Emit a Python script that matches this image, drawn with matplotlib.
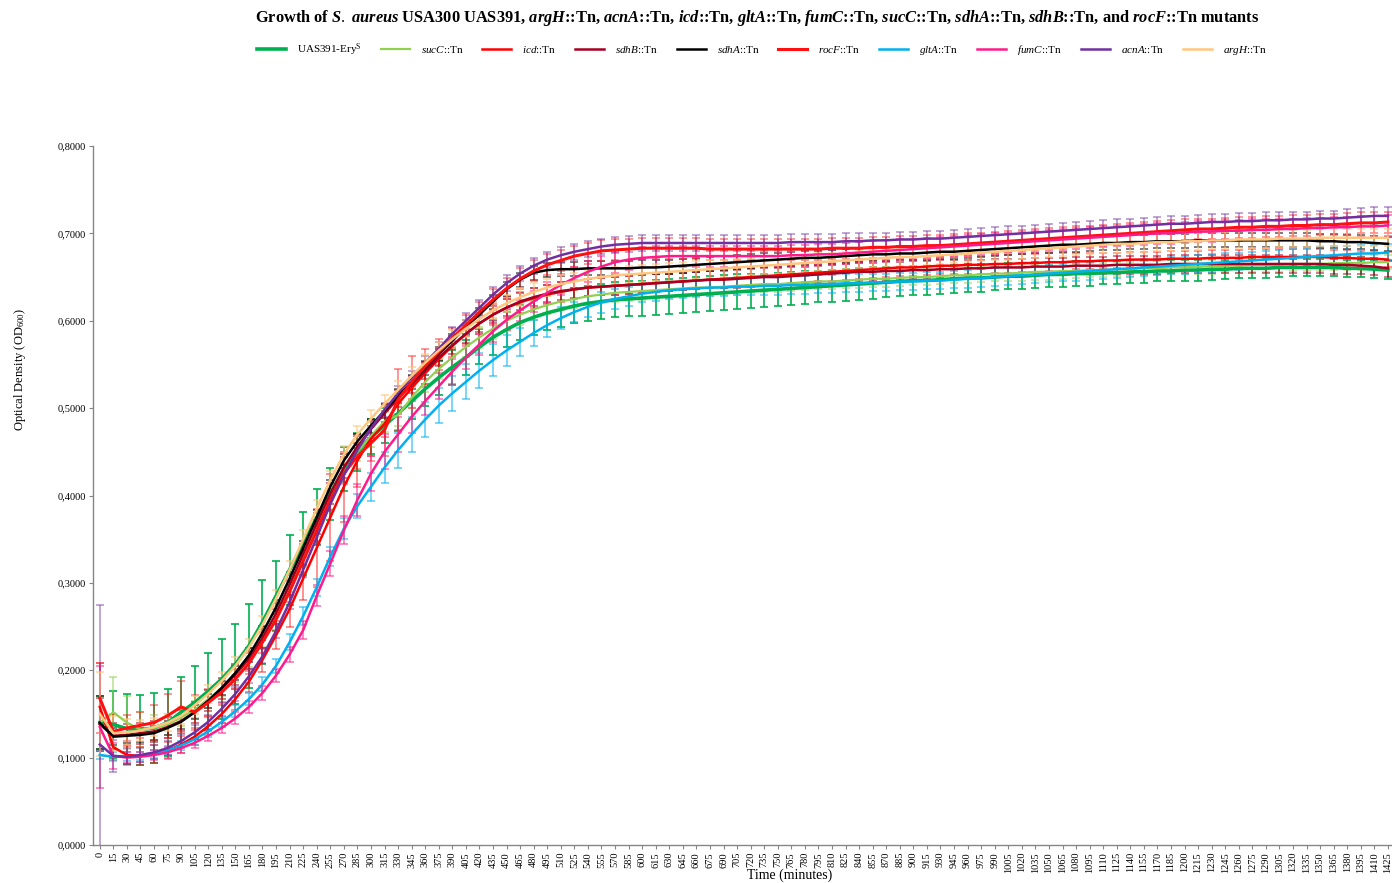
import matplotlib
matplotlib.use("Agg")
import matplotlib.pyplot as plt
from matplotlib.colors import to_rgba

plt.rcParams['font.family'] = ['Liberation Serif', 'DejaVu Serif']
plt.rcParams['mathtext.fontset'] = 'custom'
plt.rcParams['mathtext.rm'] = 'Liberation Serif'
plt.rcParams['mathtext.it'] = 'Liberation Serif:italic:bold'
plt.rcParams['mathtext.bf'] = 'Liberation Serif:bold'
plt.rcParams['mathtext.sf'] = 'Liberation Serif:italic'

# time points (minutes)
times = list(range(0, 1426, 15))

uas391 = [0.140, 0.138, 0.133, 0.132, 0.134, 0.140, 0.152, 0.163, 0.176, 0.190, 0.207, 0.228,
          0.255, 0.285, 0.315, 0.345, 0.375, 0.402, 0.430, 0.450, 0.467, 0.480, 0.494, 0.508,
          0.522, 0.535, 0.547, 0.558, 0.570, 0.581, 0.590, 0.598, 0.604, 0.609, 0.613, 0.617,
          0.620, 0.622, 0.624, 0.625, 0.626, 0.627, 0.628, 0.629, 0.630, 0.631, 0.632, 0.633,
          0.634, 0.635, 0.636, 0.637, 0.638, 0.639, 0.640, 0.641, 0.642, 0.643, 0.644, 0.645,
          0.646, 0.646, 0.647, 0.648, 0.649, 0.649, 0.650, 0.651, 0.651, 0.652, 0.653, 0.653,
          0.654, 0.654, 0.655, 0.655, 0.656, 0.656, 0.657, 0.657, 0.658, 0.658, 0.659, 0.659,
          0.660, 0.660, 0.660, 0.661, 0.661, 0.661, 0.661, 0.661, 0.660, 0.660, 0.659, 0.658]
uas391_err = [0.030, 0.038, 0.040, 0.040, 0.040, 0.038, 0.040, 0.042, 0.044, 0.046, 0.046, 0.048,
              0.048, 0.040, 0.040, 0.036, 0.032, 0.030, 0.025, 0.022, 0.020, 0.020, 0.020, 0.020,
              0.020, 0.020, 0.020, 0.020, 0.020, 0.020, 0.020, 0.020, 0.020, 0.020, 0.020, 0.020,
              0.020, 0.020, 0.020, 0.020, 0.020, 0.020, 0.020, 0.020, 0.020, 0.020, 0.020, 0.020,
              0.019, 0.019, 0.019, 0.019, 0.019, 0.018, 0.018, 0.018, 0.018, 0.018, 0.017, 0.017,
              0.017, 0.017, 0.016, 0.016, 0.016, 0.016, 0.015, 0.015, 0.015, 0.015, 0.014, 0.014,
              0.014, 0.014, 0.013, 0.013, 0.013, 0.013, 0.012, 0.012, 0.012, 0.012, 0.012, 0.011,
              0.011, 0.011, 0.011, 0.011, 0.010, 0.010, 0.010, 0.010, 0.010, 0.010, 0.010, 0.010]

sucC = [0.140, 0.152, 0.140, 0.132, 0.134, 0.138, 0.146, 0.155, 0.167, 0.180, 0.196, 0.214,
        0.237, 0.263, 0.294, 0.328, 0.362, 0.395, 0.425, 0.450, 0.468, 0.485, 0.492, 0.512,
        0.530, 0.545, 0.558, 0.570, 0.581, 0.591, 0.600, 0.607, 0.613, 0.618, 0.622, 0.625,
        0.628, 0.630, 0.632, 0.633, 0.634, 0.635, 0.636, 0.637, 0.638, 0.638, 0.639, 0.640,
        0.641, 0.642, 0.642, 0.643, 0.644, 0.645, 0.645, 0.646, 0.647, 0.648, 0.648, 0.649,
        0.650, 0.650, 0.651, 0.652, 0.652, 0.653, 0.654, 0.654, 0.655, 0.656, 0.656, 0.657,
        0.657, 0.658, 0.658, 0.659, 0.659, 0.660, 0.660, 0.661, 0.661, 0.662, 0.662, 0.663,
        0.663, 0.664, 0.664, 0.664, 0.665, 0.665, 0.665, 0.666, 0.666, 0.666, 0.667, 0.667]
sucC_err = [0.030, 0.040, 0.030, 0.020, 0.015, 0.012, 0.010, 0.010, 0.010, 0.010, 0.010, 0.010,
            0.010, 0.010, 0.010, 0.010, 0.010, 0.010, 0.010, 0.010, 0.012, 0.012, 0.012, 0.012,
            0.012, 0.012, 0.012, 0.012, 0.012, 0.012, 0.012, 0.012, 0.012, 0.010, 0.010, 0.010,
            0.010, 0.010, 0.010, 0.010, 0.010, 0.010, 0.010, 0.010, 0.010, 0.010, 0.010, 0.010,
            0.009, 0.009, 0.009, 0.009, 0.009, 0.009, 0.009, 0.009, 0.009, 0.009, 0.009, 0.009,
            0.009, 0.009, 0.009, 0.009, 0.009, 0.009, 0.009, 0.009, 0.009, 0.009, 0.009, 0.009,
            0.008, 0.008, 0.008, 0.008, 0.008, 0.008, 0.008, 0.008, 0.008, 0.008, 0.008, 0.008,
            0.008, 0.008, 0.008, 0.008, 0.008, 0.008, 0.008, 0.008, 0.008, 0.008, 0.008, 0.008]

icd = [0.158, 0.112, 0.103, 0.102, 0.104, 0.108, 0.115, 0.124, 0.136, 0.150, 0.167, 0.187,
       0.212, 0.240, 0.270, 0.305, 0.340, 0.375, 0.410, 0.440, 0.465, 0.482, 0.505, 0.523,
       0.540, 0.556, 0.571, 0.585, 0.597, 0.607, 0.615, 0.621, 0.626, 0.630, 0.633, 0.636,
       0.638, 0.639, 0.640, 0.641, 0.642, 0.643, 0.644, 0.645, 0.646, 0.647, 0.648, 0.649,
       0.650, 0.651, 0.652, 0.653, 0.654, 0.655, 0.656, 0.657, 0.658, 0.659, 0.660, 0.661,
       0.661, 0.662, 0.663, 0.663, 0.664, 0.664, 0.665, 0.665, 0.666, 0.666, 0.667, 0.667,
       0.668, 0.668, 0.669, 0.669, 0.670, 0.670, 0.670, 0.671, 0.671, 0.671, 0.672, 0.672,
       0.672, 0.673, 0.673, 0.673, 0.673, 0.673, 0.673, 0.672, 0.672, 0.671, 0.671, 0.670]
icd_err = [0.050, 0.015, 0.010, 0.010, 0.010, 0.010, 0.010, 0.010, 0.010, 0.010, 0.012, 0.012,
           0.014, 0.016, 0.020, 0.025, 0.045, 0.050, 0.040, 0.030, 0.020, 0.015, 0.012, 0.012,
           0.012, 0.012, 0.012, 0.012, 0.012, 0.012, 0.012, 0.012, 0.011, 0.011, 0.011, 0.011,
           0.010, 0.010, 0.010, 0.010, 0.010, 0.010, 0.010, 0.010, 0.010, 0.010, 0.010, 0.010,
           0.010, 0.010, 0.010, 0.010, 0.010, 0.010, 0.010, 0.010, 0.010, 0.010, 0.010, 0.010,
           0.010, 0.010, 0.010, 0.010, 0.010, 0.010, 0.010, 0.010, 0.010, 0.010, 0.010, 0.010,
           0.009, 0.009, 0.009, 0.009, 0.009, 0.009, 0.009, 0.009, 0.009, 0.009, 0.009, 0.009,
           0.009, 0.009, 0.009, 0.009, 0.009, 0.009, 0.009, 0.009, 0.009, 0.009, 0.009, 0.009]

sdhB = [0.138, 0.125, 0.126, 0.128, 0.130, 0.135, 0.142, 0.152, 0.165, 0.179, 0.195, 0.213,
        0.237, 0.265, 0.298, 0.333, 0.368, 0.402, 0.432, 0.456, 0.476, 0.494, 0.511, 0.527,
        0.543, 0.558, 0.572, 0.585, 0.597, 0.607, 0.615, 0.622, 0.627, 0.631, 0.634, 0.636,
        0.638, 0.639, 0.640, 0.641, 0.642, 0.643, 0.644, 0.645, 0.646, 0.647, 0.647, 0.648,
        0.649, 0.650, 0.650, 0.651, 0.652, 0.653, 0.654, 0.655, 0.656, 0.656, 0.657, 0.657,
        0.658, 0.658, 0.659, 0.659, 0.660, 0.660, 0.661, 0.661, 0.661, 0.662, 0.662, 0.662,
        0.663, 0.663, 0.663, 0.664, 0.664, 0.664, 0.664, 0.665, 0.665, 0.665, 0.665, 0.665,
        0.665, 0.665, 0.665, 0.665, 0.665, 0.665, 0.665, 0.664, 0.664, 0.663, 0.662, 0.660]
sdhB_err = [0.030, 0.015, 0.012, 0.012, 0.012, 0.012, 0.012, 0.012, 0.012, 0.012, 0.012, 0.012,
            0.012, 0.012, 0.012, 0.012, 0.012, 0.012, 0.012, 0.012, 0.010, 0.010, 0.010, 0.010,
            0.010, 0.010, 0.010, 0.010, 0.010, 0.010, 0.010, 0.010, 0.010, 0.010, 0.010, 0.010,
            0.010, 0.010, 0.010, 0.010, 0.010, 0.010, 0.010, 0.010, 0.010, 0.010, 0.010, 0.010,
            0.010, 0.010, 0.010, 0.010, 0.010, 0.010, 0.010, 0.010, 0.010, 0.010, 0.010, 0.010,
            0.010, 0.010, 0.010, 0.010, 0.010, 0.010, 0.010, 0.010, 0.010, 0.010, 0.010, 0.010,
            0.010, 0.010, 0.010, 0.010, 0.010, 0.010, 0.010, 0.010, 0.010, 0.010, 0.010, 0.010,
            0.010, 0.010, 0.010, 0.010, 0.010, 0.010, 0.010, 0.010, 0.010, 0.010, 0.010, 0.010]

sdhA = [0.140, 0.124, 0.125, 0.126, 0.128, 0.134, 0.141, 0.152, 0.165, 0.180, 0.197, 0.217,
        0.243, 0.272, 0.305, 0.340, 0.375, 0.410, 0.440, 0.462, 0.480, 0.497, 0.514, 0.530,
        0.546, 0.562, 0.577, 0.593, 0.607, 0.622, 0.636, 0.647, 0.655, 0.658, 0.659, 0.659,
        0.660, 0.660, 0.660, 0.660, 0.661, 0.661, 0.662, 0.663, 0.664, 0.665, 0.666, 0.667,
        0.668, 0.669, 0.670, 0.671, 0.672, 0.672, 0.673, 0.674, 0.675, 0.676, 0.676, 0.677,
        0.677, 0.678, 0.679, 0.679, 0.680, 0.681, 0.682, 0.683, 0.684, 0.685, 0.686, 0.687,
        0.687, 0.688, 0.689, 0.689, 0.690, 0.690, 0.691, 0.691, 0.691, 0.692, 0.692, 0.692,
        0.692, 0.692, 0.692, 0.692, 0.692, 0.692, 0.691, 0.691, 0.690, 0.690, 0.689, 0.688]
sdhA_err = [0.030, 0.010, 0.008, 0.008, 0.008, 0.008, 0.008, 0.008, 0.008, 0.008, 0.008, 0.008,
            0.008, 0.008, 0.008, 0.008, 0.008, 0.008, 0.008, 0.008, 0.008, 0.008, 0.008, 0.008,
            0.008, 0.008, 0.008, 0.008, 0.008, 0.008, 0.008, 0.008, 0.008, 0.008, 0.008, 0.008,
            0.008, 0.008, 0.008, 0.008, 0.008, 0.008, 0.008, 0.008, 0.008, 0.008, 0.008, 0.008,
            0.008, 0.008, 0.008, 0.008, 0.008, 0.008, 0.008, 0.008, 0.008, 0.008, 0.008, 0.008,
            0.008, 0.008, 0.008, 0.008, 0.008, 0.008, 0.008, 0.008, 0.008, 0.008, 0.008, 0.008,
            0.008, 0.008, 0.008, 0.008, 0.008, 0.008, 0.008, 0.008, 0.008, 0.008, 0.008, 0.008,
            0.008, 0.008, 0.008, 0.008, 0.008, 0.008, 0.008, 0.008, 0.008, 0.008, 0.008, 0.008]

rocF = [0.168, 0.130, 0.134, 0.137, 0.140, 0.148, 0.158, 0.152, 0.163, 0.175, 0.190, 0.208,
        0.232, 0.258, 0.290, 0.325, 0.360, 0.395, 0.425, 0.445, 0.460, 0.475, 0.510, 0.530,
        0.548, 0.564, 0.580, 0.595, 0.610, 0.624, 0.637, 0.648, 0.657, 0.664, 0.669, 0.674,
        0.677, 0.680, 0.681, 0.682, 0.683, 0.683, 0.683, 0.683, 0.683, 0.682, 0.682, 0.682,
        0.682, 0.682, 0.682, 0.682, 0.682, 0.682, 0.683, 0.683, 0.683, 0.684, 0.684, 0.685,
        0.685, 0.686, 0.686, 0.687, 0.688, 0.689, 0.690, 0.691, 0.692, 0.693, 0.694, 0.695,
        0.696, 0.697, 0.698, 0.699, 0.700, 0.701, 0.702, 0.703, 0.704, 0.705, 0.705, 0.706,
        0.707, 0.707, 0.708, 0.708, 0.709, 0.709, 0.710, 0.710, 0.711, 0.712, 0.712, 0.713]
rocF_err = [0.040, 0.020, 0.015, 0.015, 0.020, 0.025, 0.030, 0.020, 0.015, 0.012, 0.012, 0.012,
            0.012, 0.012, 0.012, 0.012, 0.012, 0.012, 0.012, 0.015, 0.020, 0.030, 0.035, 0.030,
            0.020, 0.015, 0.012, 0.012, 0.012, 0.012, 0.012, 0.012, 0.012, 0.012, 0.012, 0.012,
            0.012, 0.012, 0.012, 0.012, 0.012, 0.012, 0.012, 0.012, 0.012, 0.012, 0.012, 0.012,
            0.012, 0.012, 0.012, 0.012, 0.012, 0.012, 0.012, 0.012, 0.012, 0.012, 0.012, 0.012,
            0.012, 0.012, 0.012, 0.012, 0.012, 0.012, 0.012, 0.012, 0.012, 0.012, 0.012, 0.012,
            0.012, 0.012, 0.012, 0.012, 0.012, 0.012, 0.012, 0.012, 0.012, 0.012, 0.012, 0.012,
            0.012, 0.012, 0.012, 0.012, 0.012, 0.012, 0.012, 0.012, 0.012, 0.012, 0.012, 0.012]

gltA = [0.103, 0.101, 0.101, 0.102, 0.104, 0.108, 0.114, 0.121, 0.130, 0.141, 0.153, 0.167,
        0.184, 0.205, 0.232, 0.262, 0.295, 0.330, 0.362, 0.388, 0.410, 0.432, 0.452, 0.470,
        0.487, 0.503, 0.517, 0.530, 0.543, 0.555, 0.566, 0.576, 0.586, 0.595, 0.603, 0.610,
        0.616, 0.621, 0.625, 0.628, 0.631, 0.633, 0.635, 0.636, 0.637, 0.638, 0.638, 0.639,
        0.639, 0.640, 0.640, 0.641, 0.641, 0.642, 0.642, 0.643, 0.643, 0.644, 0.644, 0.645,
        0.645, 0.646, 0.646, 0.647, 0.648, 0.649, 0.650, 0.651, 0.652, 0.653, 0.654, 0.655,
        0.656, 0.657, 0.658, 0.659, 0.660, 0.661, 0.662, 0.663, 0.664, 0.665, 0.666, 0.667,
        0.668, 0.669, 0.670, 0.671, 0.672, 0.673, 0.674, 0.675, 0.676, 0.677, 0.677, 0.678]
gltA_err = [0.005, 0.005, 0.005, 0.005, 0.005, 0.005, 0.005, 0.006, 0.006, 0.006, 0.007, 0.007,
            0.008, 0.008, 0.009, 0.010, 0.010, 0.011, 0.012, 0.014, 0.016, 0.018, 0.020, 0.020,
            0.020, 0.020, 0.020, 0.020, 0.020, 0.018, 0.018, 0.016, 0.015, 0.014, 0.013, 0.012,
            0.012, 0.012, 0.011, 0.011, 0.010, 0.010, 0.010, 0.010, 0.010, 0.010, 0.010, 0.010,
            0.010, 0.010, 0.010, 0.010, 0.010, 0.010, 0.010, 0.010, 0.010, 0.010, 0.010, 0.010,
            0.010, 0.010, 0.010, 0.010, 0.010, 0.010, 0.010, 0.010, 0.010, 0.010, 0.010, 0.010,
            0.010, 0.010, 0.010, 0.010, 0.010, 0.010, 0.010, 0.010, 0.010, 0.010, 0.010, 0.010,
            0.010, 0.010, 0.010, 0.010, 0.010, 0.010, 0.010, 0.010, 0.010, 0.010, 0.010, 0.010]

fumC = [0.135, 0.102, 0.100, 0.101, 0.103, 0.106, 0.111, 0.117, 0.125, 0.134, 0.145, 0.158,
        0.174, 0.194, 0.218, 0.246, 0.285, 0.322, 0.360, 0.395, 0.425, 0.450, 0.470, 0.490,
        0.508, 0.525, 0.542, 0.558, 0.573, 0.588, 0.601, 0.612, 0.622, 0.632, 0.641, 0.649,
        0.656, 0.662, 0.667, 0.670, 0.672, 0.673, 0.674, 0.674, 0.674, 0.674, 0.674, 0.674,
        0.674, 0.674, 0.674, 0.675, 0.675, 0.676, 0.676, 0.677, 0.678, 0.679, 0.680, 0.681,
        0.682, 0.683, 0.684, 0.685, 0.686, 0.687, 0.688, 0.689, 0.690, 0.691, 0.692, 0.693,
        0.694, 0.695, 0.696, 0.697, 0.698, 0.699, 0.700, 0.700, 0.701, 0.702, 0.702, 0.703,
        0.703, 0.704, 0.704, 0.705, 0.705, 0.706, 0.706, 0.707, 0.707, 0.708, 0.708, 0.709]
fumC_err = [0.070, 0.015, 0.006, 0.006, 0.006, 0.006, 0.006, 0.006, 0.006, 0.006, 0.007, 0.007,
            0.008, 0.008, 0.009, 0.010, 0.012, 0.014, 0.016, 0.018, 0.020, 0.020, 0.020, 0.018,
            0.016, 0.015, 0.014, 0.013, 0.012, 0.012, 0.012, 0.012, 0.012, 0.012, 0.012, 0.012,
            0.012, 0.012, 0.012, 0.012, 0.012, 0.012, 0.012, 0.012, 0.012, 0.012, 0.012, 0.012,
            0.012, 0.012, 0.012, 0.012, 0.012, 0.012, 0.012, 0.012, 0.012, 0.012, 0.012, 0.012,
            0.012, 0.012, 0.012, 0.012, 0.012, 0.012, 0.012, 0.012, 0.012, 0.012, 0.012, 0.012,
            0.012, 0.012, 0.012, 0.012, 0.012, 0.012, 0.012, 0.012, 0.012, 0.012, 0.012, 0.012,
            0.012, 0.012, 0.012, 0.012, 0.012, 0.012, 0.012, 0.012, 0.012, 0.012, 0.012, 0.012]

acnA = [0.115, 0.102, 0.101, 0.103, 0.106, 0.111, 0.119, 0.129, 0.141, 0.156, 0.173, 0.193,
        0.216, 0.245, 0.278, 0.315, 0.352, 0.390, 0.423, 0.452, 0.477, 0.498, 0.517, 0.535,
        0.552, 0.568, 0.585, 0.600, 0.615, 0.630, 0.643, 0.654, 0.663, 0.670, 0.675, 0.679,
        0.682, 0.685, 0.687, 0.688, 0.689, 0.689, 0.689, 0.689, 0.689, 0.689, 0.689, 0.689,
        0.689, 0.689, 0.689, 0.690, 0.690, 0.690, 0.690, 0.691, 0.691, 0.692, 0.692, 0.693,
        0.693, 0.694, 0.694, 0.695, 0.696, 0.697, 0.698, 0.699, 0.700, 0.701, 0.702, 0.703,
        0.704, 0.705, 0.706, 0.707, 0.708, 0.709, 0.710, 0.711, 0.711, 0.712, 0.713, 0.713,
        0.714, 0.714, 0.715, 0.715, 0.716, 0.716, 0.717, 0.717, 0.718, 0.719, 0.720, 0.720]
acnA_err = [0.160, 0.018, 0.010, 0.008, 0.008, 0.008, 0.008, 0.008, 0.008, 0.008, 0.008, 0.008,
            0.008, 0.008, 0.008, 0.008, 0.008, 0.008, 0.008, 0.008, 0.008, 0.008, 0.008, 0.008,
            0.008, 0.008, 0.008, 0.009, 0.009, 0.009, 0.009, 0.009, 0.009, 0.009, 0.009, 0.009,
            0.009, 0.009, 0.009, 0.009, 0.009, 0.009, 0.009, 0.009, 0.009, 0.009, 0.009, 0.009,
            0.009, 0.009, 0.009, 0.009, 0.009, 0.009, 0.009, 0.009, 0.009, 0.009, 0.009, 0.009,
            0.009, 0.009, 0.009, 0.009, 0.009, 0.009, 0.009, 0.009, 0.009, 0.009, 0.009, 0.009,
            0.009, 0.009, 0.009, 0.009, 0.009, 0.009, 0.009, 0.009, 0.009, 0.009, 0.009, 0.009,
            0.009, 0.009, 0.009, 0.009, 0.009, 0.009, 0.009, 0.009, 0.010, 0.010, 0.010, 0.010]

argH = [0.150, 0.128, 0.129, 0.131, 0.135, 0.140, 0.148, 0.160, 0.173, 0.188, 0.205, 0.226,
        0.252, 0.282, 0.315, 0.350, 0.385, 0.418, 0.447, 0.470, 0.488, 0.505, 0.521, 0.537,
        0.552, 0.566, 0.579, 0.591, 0.602, 0.612, 0.620, 0.627, 0.633, 0.638, 0.642, 0.645,
        0.648, 0.650, 0.652, 0.653, 0.654, 0.655, 0.656, 0.657, 0.658, 0.659, 0.660, 0.661,
        0.662, 0.663, 0.664, 0.665, 0.666, 0.667, 0.668, 0.669, 0.670, 0.671, 0.672, 0.673,
        0.673, 0.674, 0.675, 0.676, 0.677, 0.678, 0.679, 0.680, 0.681, 0.682, 0.683, 0.684,
        0.685, 0.686, 0.687, 0.688, 0.688, 0.689, 0.690, 0.690, 0.691, 0.691, 0.692, 0.692,
        0.693, 0.693, 0.693, 0.694, 0.694, 0.694, 0.695, 0.695, 0.695, 0.695, 0.695, 0.695]
argH_err = [0.048, 0.020, 0.015, 0.012, 0.010, 0.010, 0.010, 0.010, 0.010, 0.010, 0.010, 0.010,
            0.010, 0.010, 0.010, 0.010, 0.010, 0.010, 0.010, 0.010, 0.010, 0.010, 0.010, 0.010,
            0.010, 0.010, 0.010, 0.010, 0.010, 0.010, 0.010, 0.010, 0.010, 0.010, 0.010, 0.010,
            0.010, 0.010, 0.010, 0.010, 0.010, 0.010, 0.010, 0.010, 0.010, 0.010, 0.010, 0.010,
            0.010, 0.010, 0.010, 0.010, 0.010, 0.010, 0.010, 0.010, 0.010, 0.010, 0.010, 0.010,
            0.010, 0.010, 0.010, 0.010, 0.010, 0.010, 0.010, 0.010, 0.010, 0.010, 0.010, 0.010,
            0.010, 0.010, 0.010, 0.010, 0.010, 0.010, 0.010, 0.010, 0.010, 0.010, 0.010, 0.010,
            0.010, 0.010, 0.010, 0.010, 0.010, 0.010, 0.010, 0.010, 0.010, 0.010, 0.010, 0.010]

labels = [r"UAS391-Ery$^{\mathrm{S}}$", r"$\mathsf{sucC}$::Tn", r"$\mathsf{icd}$::Tn",
          r"$\mathsf{sdhB}$::Tn", r"$\mathsf{sdhA}$::Tn", r"$\mathsf{rocF}$::Tn",
          r"$\mathsf{gltA}$::Tn", r"$\mathsf{fumC}$::Tn", r"$\mathsf{acnA}$::Tn",
          r"$\mathsf{argH}$::Tn"]
series = [uas391, sucC, icd, sdhB, sdhA, rocF, gltA, fumC, acnA, argH]
errors = [uas391_err, sucC_err, icd_err, sdhB_err, sdhA_err, rocF_err, gltA_err, fumC_err, acnA_err, argH_err]
colors = ['#00B050', '#92D050', '#FF0000', '#A50021', '#000000', '#FF1010',
          '#00B0F0', '#FF1A8C', '#7030A0', '#FFC77D']
widths = [2.6, 1.6, 1.8, 1.8, 1.8, 2.2, 1.8, 1.8, 1.8, 1.8]
err_alpha = [1.0, 0.6, 0.5, 0.6, 0.6, 0.5, 0.6, 0.6, 0.5, 0.7]

fig = plt.figure(figsize=(13.92, 8.83), dpi=100)
ax = fig.add_axes([93 / 1392, 38 / 883, 1299 / 1392, 699 / 883])

xpos = list(range(len(times)))
handles = []
for y, e, c, lw, a in zip(series, errors, colors, widths, err_alpha):
    cont = ax.errorbar(xpos, y, yerr=e, color=c, lw=lw, ecolor=to_rgba(c, a),
                       elinewidth=1.2, capsize=3, capthick=1.2)
    handles.append(cont[0])

ax.set_ylim(0, 0.8)
ax.set_xlim(-0.5, 95.3)
yt = [0.0, 0.1, 0.2, 0.3, 0.4, 0.5, 0.6, 0.7, 0.8]
ax.set_yticks(yt)
ax.set_yticklabels([f"{v:.4f}".replace('.', ',') for v in yt], fontsize=7.5)
ax.set_xticks(xpos)
ax.set_xticklabels([str(t) for t in times], rotation=90, fontsize=7.5)
ax.tick_params(axis='both', direction='out', length=3, width=0.8, color='#868686', pad=2)
for s in ['top', 'right']:
    ax.spines[s].set_visible(False)
for s in ['left', 'bottom']:
    ax.spines[s].set_color('#868686')
    ax.spines[s].set_linewidth(1.0)

ax.set_ylabel(r"Optical Density (OD$_{600}$)", fontsize=9)
ax.yaxis.set_label_coords(-0.050, 0.68)
fig.text(790 / 1392, 1 - 875 / 883, "Time (minutes)", ha='center', va='center', fontsize=10)

title = (r"Growth of $\mathit{S.\ aureus}$ USA300 UAS391, $\mathit{argH}$::Tn, $\mathit{acnA}$::Tn, "
         r"$\mathit{icd}$::Tn, $\mathit{gltA}$::Tn, $\mathit{fumC}$::Tn, $\mathit{sucC}$::Tn, "
         r"$\mathit{sdhA}$::Tn, $\mathit{sdhB}$::Tn, and $\mathit{rocF}$::Tn mutants")
fig.text(757 / 1392, 1 - 18 / 883, title, ha='center', va='center', fontsize=11.8, fontweight='bold')

fig.legend(handles, labels, loc='center', bbox_to_anchor=(762 / 1392, 1 - 50 / 883), ncol=10,
           frameon=False, fontsize=8, handlelength=2.6, columnspacing=1.7, handletextpad=1.0)

fig.savefig("out.png", dpi=100)
